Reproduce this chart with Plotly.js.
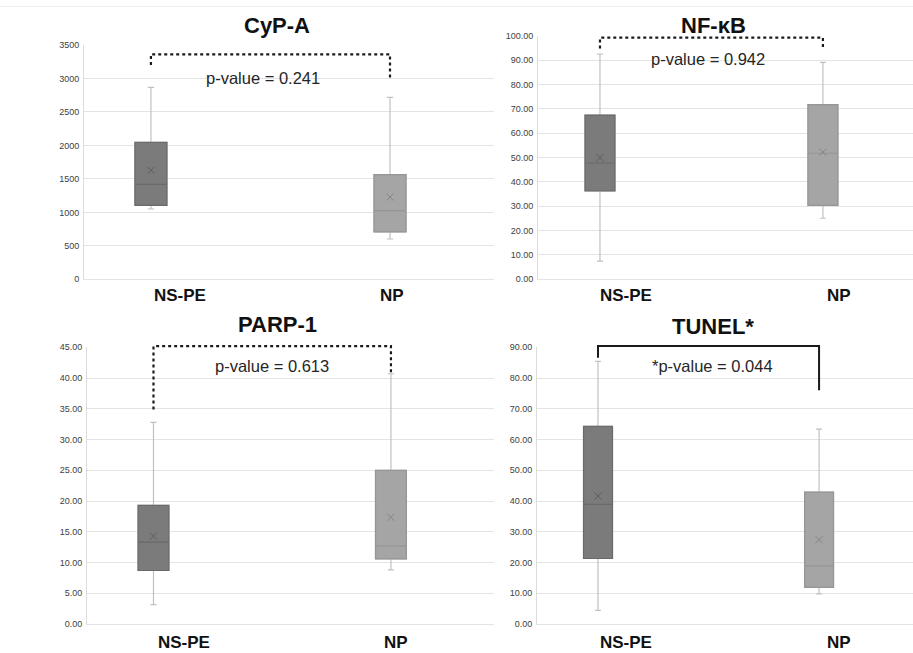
<!DOCTYPE html>
<html><head><meta charset="utf-8">
<script src="https://cdn.plot.ly/plotly-3.0.1.min.js"></script>
<style>html,body{margin:0;padding:0;background:#fff}#chart{width:913px;height:653px}</style>
</head><body><div id="chart"></div>
<script>
// ---------- DATA ----------
const groups = ['NS-PE', 'NP'];
const panelTitles = ['CyP-A', 'NF-κB', 'PARP-1', 'TUNEL*'];
const pValueLabels = ['p-value = 0.241', 'p-value = 0.942', 'p-value = 0.613', '*p-value = 0.044'];
const significant = [false, false, false, true];
// each row: one panel, [NS-PE, NP]
const lowerWhisker = [[1050, 602], [7.5, 25.1], [3.15, 8.8], [4.45, 9.8]];
const q1 = [[1105, 707], [36.3, 30.4], [8.7, 10.6], [21.3, 11.9]];
const median = [[1419, 1025], [47.8, 51.8], [13.3, 12.7], [38.9, 18.9]];
const q3 = [[2046, 1563], [67.5, 71.8], [19.3, 25.0], [64.3, 42.9]];
const upperWhisker = [[2867, 2718], [92.6, 89.2], [32.8, 40.7], [85.4, 63.4]];
const means = [[1628, 1229], [50.0, 52.3], [14.3, 17.35], [41.6, 27.4]];
// y axis tick scale per panel
const yMax = [3500, 100, 45, 90];
const yStep = [500, 10, 5, 10];
const yFormat = ['d', '.2f', '.2f', '.2f'];
// comparison brackets (value units)
const bracketTop = [3360, 99.3, 45.2, 90.4];
const bracketLeftEnd = [3200, 94.9, 34.9, 86.6];
const bracketRightEnd = [2987, 94.5, 40.8, 76.0];
const pTextY = [3000, 90.4, 41.9, 83.9];

// ---------- LAYOUT CONFIG ----------
const W = 913, H = 653;
const FONT = 'Liberation Sans, Arial, sans-serif';
const fills = ['#7b7b7b', '#a5a5a5'];
const outlines = ['#6a6a6a', '#959595'];
const meanColors = ['#5e5e5e', '#858585'];
const whiskerColor = '#c0c0c0';
const panels = [
  {px: [84, 494], py: [45, 279.3], xr: [0.72, 2.435], lab: [1.12, 2.01], labShift: -16, title: [277, 26], pX: 1.47, bw: 0.134},
  {px: [538, 913], py: [36, 279.3], xr: [0.722, 2.404], lab: [1.117, 2.07], labShift: -16, title: [713, 26], pX: 1.484, bw: 0.1345},
  {px: [87, 494], py: [347.3, 624], xr: [0.72, 2.434], lab: [1.128, 2.02], labShift: -18, title: [277, 325], pX: 1.5, bw: 0.13},
  {px: [537, 913], py: [347.3, 624], xr: [0.724, 2.425], lab: [1.127, 2.09], labShift: -18, title: [713, 326], pX: 1.52, bw: 0.131}
];

const traces = [];
const layout = {
  width: W, height: H, margin: {l: 0, r: 0, t: 0, b: 0},
  paper_bgcolor: '#fff', plot_bgcolor: '#fff',
  showlegend: false, boxmode: 'overlay', hovermode: false,
  font: {family: FONT, color: '#222'},
  annotations: [], shapes: []
};

panels.forEach((p, i) => {
  const s = i === 0 ? '' : String(i + 1);
  const xa = 'x' + s, ya = 'y' + s;
  const ticks = [];
  for (let v = 0; v <= yMax[i] + 1e-9; v += yStep[i]) ticks.push(v);
  const yr = [0, yMax[i]];
  layout['xaxis' + s] = {
    domain: [p.px[0] / W, p.px[1] / W], range: p.xr, anchor: ya,
    showgrid: false, zeroline: false, showticklabels: false, ticks: '',
    showline: true, linecolor: '#e4e4e4', linewidth: 1
  };
  layout['yaxis' + s] = {
    domain: [1 - p.py[1] / H, 1 - p.py[0] / H], range: yr, anchor: xa,
    tickvals: ticks, tickformat: yFormat[i], ticks: '',
    showgrid: true, gridcolor: '#e4e4e4', gridwidth: 1, zeroline: false,
    showline: true, linecolor: '#dcdcdc', linewidth: 1,
    tickfont: {family: FONT, size: 9, color: '#404040'}, ticklabelstandoff: 2
  };
  groups.forEach((g, k) => {
    const xpos = [k + 1];
    traces.push({
      type: 'box', xaxis: xa, yaxis: ya, x: xpos,
      q1: [q1[i][k]], median: [median[i][k]], q3: [q3[i][k]],
      lowerfence: [lowerWhisker[i][k]], upperfence: [upperWhisker[i][k]],
      width: p.bw, whiskerwidth: 0.2, fillcolor: fills[k],
      line: {color: whiskerColor, width: 1.2}, boxpoints: false, name: g
    });
    traces.push({
      type: 'box', xaxis: xa, yaxis: ya, x: xpos,
      q1: [q1[i][k]], median: [median[i][k]], q3: [q3[i][k]],
      lowerfence: [q1[i][k]], upperfence: [q3[i][k]],
      width: p.bw, whiskerwidth: 0, fillcolor: fills[k],
      line: {color: outlines[k], width: 1.2}, boxpoints: false, name: g
    });
    traces.push({
      type: 'scatter', mode: 'markers', xaxis: xa, yaxis: ya, x: xpos, y: [means[i][k]],
      marker: {symbol: 'x-thin-open', size: 7, color: meanColors[k], line: {color: meanColors[k], width: 1}}, name: g
    });
    layout.annotations.push({
      xref: xa, yref: ya + ' domain', x: p.lab[k], y: 0, yshift: p.labShift,
      xanchor: 'center', yanchor: 'middle', showarrow: false, text: '<b>' + g + '</b>',
      font: {family: FONT, size: 17, color: '#111'}
    });
  });
  layout.annotations.push({
    xref: 'paper', yref: 'paper', x: p.title[0] / W, y: 1 - p.title[1] / H,
    xanchor: 'center', yanchor: 'middle', showarrow: false, text: '<b>' + panelTitles[i] + '</b>',
    font: {family: FONT, size: 22, color: '#111'}
  });
  layout.annotations.push({
    xref: xa, yref: ya, x: p.pX, y: pTextY[i], xanchor: 'center', yanchor: 'middle',
    showarrow: false, text: pValueLabels[i], font: {family: FONT, size: 16.5, color: '#262626'}
  });
  // bracket drawn in domain fractions so it is not clipped at the plot edge
  const fx = v => (v - p.xr[0]) / (p.xr[1] - p.xr[0]);
  const fy = v => (v - yr[0]) / (yr[1] - yr[0]);
  layout.shapes.push({
    type: 'path', xref: xa + ' domain', yref: ya + ' domain',
    path: `M ${fx(1)} ${fy(bracketLeftEnd[i])} L ${fx(1)} ${fy(bracketTop[i])} L ${fx(2)} ${fy(bracketTop[i])} L ${fx(2)} ${fy(bracketRightEnd[i])}`,
    line: significant[i] ? {color: '#1a1a1a', width: 2} : {color: '#1a1a1a', width: 2.2, dash: 'dot'}
  });
});
layout.shapes.push({type: 'line', xref: 'paper', yref: 'paper', x0: 0, x1: 1, y0: 1 - 6.5 / H, y1: 1 - 6.5 / H,
  line: {color: '#efefef', width: 1}});

Plotly.newPlot('chart', traces, layout, {staticPlot: true, displayModeBar: false});
</script>
</body></html>
